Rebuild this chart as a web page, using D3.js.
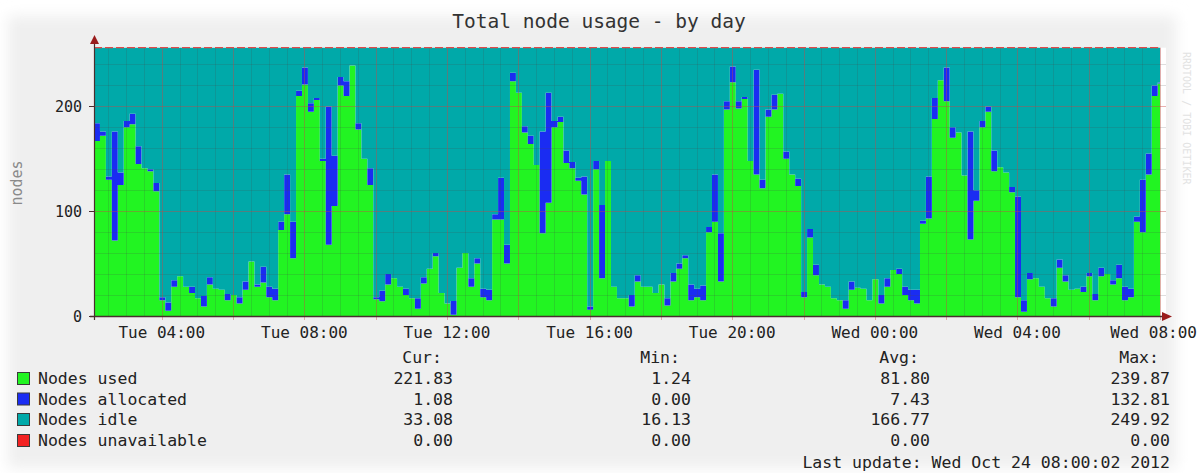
<!DOCTYPE html>
<html>
<head>
<meta charset="utf-8">
<title>Total node usage - by day</title>
<script src="https://cdn.jsdelivr.net/npm/d3@7"></script>
<style>
  body { margin: 0; background: #ffffff; }
  svg { display: block; }
  text { font-family: "DejaVu Sans Mono", monospace; }
</style>
</head>
<body>
<div id="chart"></div>
<script>

// one sample every 10 minutes, starting Tue Oct 23 02:06
var startTime = new Date(2012, 9, 23, 2, 6);
var endTime = new Date(2012, 9, 24, 8, 0);
var axisEnd = new Date(2012, 9, 24, 8, 10);
var stepMinutes = 10;
var totalNodes = 256;

var used = [
  167,172,130,72,125,180,183,145,141,138,
  119,15,5,28,38,28,22,17,9,30,
  26,25,15,20,12,25,52,28,32,18,
  15,82,97,55,210,221,195,206,148,68,
  105,220,210,239,178,150,125,16,14,30,
  36,28,20,17,7,31,45,57,22,12,
  1.24,46,60,28,50,18,15,92,92,50,
  224,213,175,164,144,79,108,180,185,146,
  141,129,116,6,140,36,148,28,17,17,
  9,33,28,28,22,30,10,33,45,55,
  15,18,15,80,90,33,197,223,198,207,
  148,135,122,190,197,212,150,135,124,18,
  75,39,30,28,17,15,7,25,27,26,
  15,35,12,28,44,40,20,15,12,88,
  93,188,225,205,170,175,134,73,110,180,
  195,138,142,137,118,18,4,35,36,28,
  17,9,46,33,25,26,23,38,15,38,
  40,30,36,15,18,90,80,135,210,221.83
];

var allocated = [
  17,4,3,104,12,6,10,17,0,2,
  8,3,8,6,0,0,6,0,10,7,
  0,0,6,0,6,8,0,2,15,10,
  11,8,38,35,5,16,8,2,2,132,
  48,8,14,0,6,0,16,2,10,10,
  0,0,6,0,10,6,0,3,0,0,
  13,0,0,8,5,8,10,5,40,18,
  8,0,6,8,0,97,105,6,5,12,
  6,3,17,3,8,70,0,0,0,0,
  11,6,0,0,0,0,7,8,5,3,
  15,8,14,5,45,46,8,15,7,2,
  0,100,8,7,14,0,7,0,7,5,
  8,10,0,0,0,0,8,8,0,0,
  0,0,8,8,0,5,8,10,13,3,
  40,20,0,32,10,0,0,103,10,6,
  5,20,0,0,5,96,11,6,0,0,
  0,8,8,6,0,0,5,3,6,8,
  0,4,13,13,8,5,50,20,10,1.08
];

var idle = [
  72,80,123,80,119,70,63,94,115,116,
  129,238,243,222,218,228,228,239,237,219,
  230,231,235,236,238,223,204,226,209,228,
  230,166,121,166,41,19,53,48,106,56,
  103,28,32,17,72,106,115,238,232,216,
  220,228,230,239,239,219,211,196,234,244,
  241.76,210,196,220,201,230,231,159,124,188,
  24,43,75,84,112,80,43,70,66,98,
  109,124,123,247,108,150,108,228,239,239,
  236,217,228,228,234,226,239,215,206,198,
  226,230,227,171,121,177,51,18,51,47,
  108,21,126,59,45,44,99,121,125,233,
  173,207,226,228,239,241,241,223,229,230,
  241,221,236,220,212,211,228,231,231,165,
  123,48,31,19,76,81,122,80,136,70,
  56,98,114,119,133,142,241,215,220,228,
  239,239,202,217,231,230,228,215,235,210,
  216,222,207,228,230,161,126,101,36,33.08
];

// legend
var seriesNames = ["Nodes used", "Nodes allocated", "Nodes idle", "Nodes unavailable"];
var seriesColors = ["#22f422", "#1a2cf2", "#00a9a9", "#f22222"];
var curValues = [221.83, 1.08, 33.08, 0.00];
var minValues = [1.24, 0.00, 16.13, 0.00];
var avgValues = [81.80, 7.43, 166.77, 0.00];
var maxValues = [239.87, 132.81, 249.92, 0.00];
var statHeaders = ["Cur:", "Min:", "Avg:", "Max:"];

var yTicks = [0, 100, 200];

var width = 1199, height = 473;

var svg = d3.select("#chart")
  .append("svg")
    .attr("width", width)
    .attr("height", height);

var defs = svg.append("defs");
defs.append("filter")
    .attr("id", "soft")
    .attr("x", "-5%").attr("y", "-5%")
    .attr("width", "110%").attr("height", "110%")
  .append("feGaussianBlur")
    .attr("stdDeviation", 7);

// grey panel with soft edges (screenshot shadow)
svg.append("rect")
    .attr("x", 8).attr("y", 16)
    .attr("width", 1168).attr("height", 452)
    .attr("fill", "#efefef")
    .attr("filter", "url(#soft)");

// scales
var x = d3.scaleTime()
    .domain([startTime, axisEnd])
    .range([94, 1166]);

var y = d3.scaleLinear()
    .domain([0, totalNodes])
    .range([316, 47.7]);

// build rows from the arrays
var rows = used.map(function(u, i) {
  return {
    t: d3.timeMinute.offset(startTime, i * stepMinutes),
    used: u,
    allocated: allocated[i],
    idle: idle[i]
  };
});
var last = rows[rows.length - 1];
rows.push({t: endTime, used: last.used, allocated: last.allocated, idle: last.idle});

// white canvas
svg.append("rect")
    .attr("x", x.range()[0]).attr("y", y(totalNodes))
    .attr("width", x.range()[1] - x.range()[0])
    .attr("height", y(0) - y(totalNodes))
    .attr("fill", "#ffffff");

var stack = d3.stack().keys(["used", "allocated", "idle"]);
var layers = stack(rows);

var area = d3.area()
    .curve(d3.curveStepAfter)
    .x(function(d) { return x(d.data.t); })
    .y0(function(d) { return y(d[0]); })
    .y1(function(d) { return y(d[1]); });

svg.append("g")
  .selectAll("path")
  .data(layers).enter()
  .append("path")
    .attr("d", area)
    .attr("fill", function(d, i) { return seriesColors[i]; });

// grid
var grid = svg.append("g");
var x0 = x.range()[0], x1 = x.range()[1];
var minorColor = "rgba(70,70,70,0.18)";
var majorColor = "rgba(200,70,70,0.42)";

grid.selectAll("line.hminor")
  .data(d3.range(20, totalNodes, 20).filter(function(v) { return v % 100 != 0; }))
  .enter().append("line")
    .attr("x1", x0).attr("x2", x1)
    .attr("y1", function(d) { return Math.round(y(d)) + 0.5; })
    .attr("y2", function(d) { return Math.round(y(d)) + 0.5; })
    .attr("stroke", minorColor);

var minorTimes = d3.timeMinute.every(30).range(startTime, axisEnd);
grid.selectAll("line.vminor")
  .data(minorTimes.filter(function(t) { return t.getHours() % 2 != 0 || t.getMinutes() != 0; }))
  .enter().append("line")
    .attr("x1", function(d) { return Math.round(x(d)) + 0.5; })
    .attr("x2", function(d) { return Math.round(x(d)) + 0.5; })
    .attr("y1", y(totalNodes)).attr("y2", y(0))
    .attr("stroke", minorColor);

var majorTimes = d3.timeHour.every(2).range(startTime, axisEnd);
grid.selectAll("line.vmajor")
  .data(majorTimes)
  .enter().append("line")
    .attr("x1", function(d) { return Math.round(x(d)) + 0.5; })
    .attr("x2", function(d) { return Math.round(x(d)) + 0.5; })
    .attr("y1", y(totalNodes)).attr("y2", y(0) + 4)
    .attr("stroke", majorColor);

grid.selectAll("line.hmajor")
  .data(yTicks.filter(function(v) { return v > 0; }))
  .enter().append("line")
    .attr("x1", x0).attr("x2", x1)
    .attr("y1", function(d) { return Math.round(y(d)) + 0.5; })
    .attr("y2", function(d) { return Math.round(y(d)) + 0.5; })
    .attr("stroke", majorColor);

// top of the stack, unavailable line (dashed red)
var topLine = d3.line()
    .curve(d3.curveStepAfter)
    .x(function(d) { return x(d.data.t); })
    .y(function(d) { return y(d[1]); });
svg.append("path")
    .datum(layers[2])
    .attr("d", topLine)
    .attr("fill", "none")
    .attr("stroke", "#e04a4a")
    .attr("stroke-width", 1.2)
    .attr("stroke-dasharray", "8,3");

// axes
var axisColor = "#4a2e2e";
var arrowColor = "#9a1c1c";
svg.append("line")
    .attr("x1", 90).attr("x2", 1166)
    .attr("y1", y(0) + 0.5).attr("y2", y(0) + 0.5)
    .attr("stroke", axisColor).attr("stroke-width", 1.5);
svg.append("path")
    .attr("d", "M1162," + (y(0) - 4) + "L1172," + (y(0) + 0.5) + "L1162," + (y(0) + 5) + "Z")
    .attr("fill", arrowColor);
svg.append("line")
    .attr("x1", 94.5).attr("x2", 94.5)
    .attr("y1", y(0) + 4).attr("y2", 40)
    .attr("stroke", axisColor).attr("stroke-width", 1.2);
svg.append("path")
    .attr("d", "M90,44L94.5,35L99,44Z")
    .attr("fill", arrowColor);

// y ticks
svg.append("g")
  .selectAll("line")
  .data(yTicks).enter()
  .append("line")
    .attr("x1", 89).attr("x2", 94)
    .attr("y1", function(d) { return Math.round(y(d)) + 0.5; })
    .attr("y2", function(d) { return Math.round(y(d)) + 0.5; })
    .attr("stroke", axisColor);

svg.append("g")
  .selectAll("text")
  .data(yTicks).enter()
  .append("text")
    .attr("x", 82)
    .attr("y", function(d) { return y(d) + 5.5; })
    .attr("text-anchor", "end")
    .attr("font-size", "15px")
    .attr("fill", "#222")
    .text(function(d) { return d; });

// x labels (last one pushed in so it is not clipped)
var fmt = d3.timeFormat("%a %H:%M");
var labelTimes = d3.timeHour.every(4).range(startTime, axisEnd);
svg.append("g")
  .selectAll("text")
  .data(labelTimes).enter()
  .append("text")
    .attr("x", function(d, i) { return i == labelTimes.length - 1 ? 1197 : x(d); })
    .attr("y", 338)
    .attr("text-anchor", function(d, i) { return i == labelTimes.length - 1 ? "end" : "middle"; })
    .attr("font-size", "16px")
    .attr("fill", "#222")
    .text(function(d) { return fmt(d); });

// title + axis label
svg.append("text")
    .attr("x", 599).attr("y", 28)
    .attr("text-anchor", "middle")
    .attr("font-size", "19.5px")
    .attr("fill", "#333")
    .text("Total node usage - by day");

svg.append("text")
    .attr("transform", "translate(22,183) rotate(-90)")
    .attr("text-anchor", "middle")
    .attr("font-size", "15px")
    .attr("fill", "#8a8a8a")
    .text("nodes");

svg.append("text")
    .attr("transform", "translate(1183,52) rotate(90)")
    .attr("font-size", "10px")
    .attr("fill", "#e2e2e2")
    .text("RRDTOOL / TOBI OETIKER");

// legend
var colRight = [453, 691, 930, 1170];
var legend = svg.append("g").attr("font-size", "16.5px").attr("fill", "#222");

legend.selectAll("text.head")
  .data(statHeaders).enter()
  .append("text")
    .attr("x", function(d, i) { return colRight[i] - 11; })
    .attr("y", 363)
    .attr("text-anchor", "end")
    .text(function(d) { return d; });

var rowY = [384, 404.5, 425, 446];
var statCols = [curValues, minValues, avgValues, maxValues];

seriesNames.forEach(function(name, i) {
  legend.append("rect")
      .attr("x", 17.5).attr("y", rowY[i] - 11.5)
      .attr("width", 12).attr("height", 12)
      .attr("fill", seriesColors[i])
      .attr("stroke", "#3a3a3a");
  legend.append("text")
      .attr("x", 38).attr("y", rowY[i])
      .text(name);
  statCols.forEach(function(col, j) {
    legend.append("text")
        .attr("x", colRight[j]).attr("y", rowY[i])
        .attr("text-anchor", "end")
        .text(col[i].toFixed(2));
  });
});

legend.append("text")
    .attr("x", 1170).attr("y", 468)
    .attr("text-anchor", "end")
    .text("Last update: Wed Oct 24 08:00:02 2012");

</script>
</body>
</html>
